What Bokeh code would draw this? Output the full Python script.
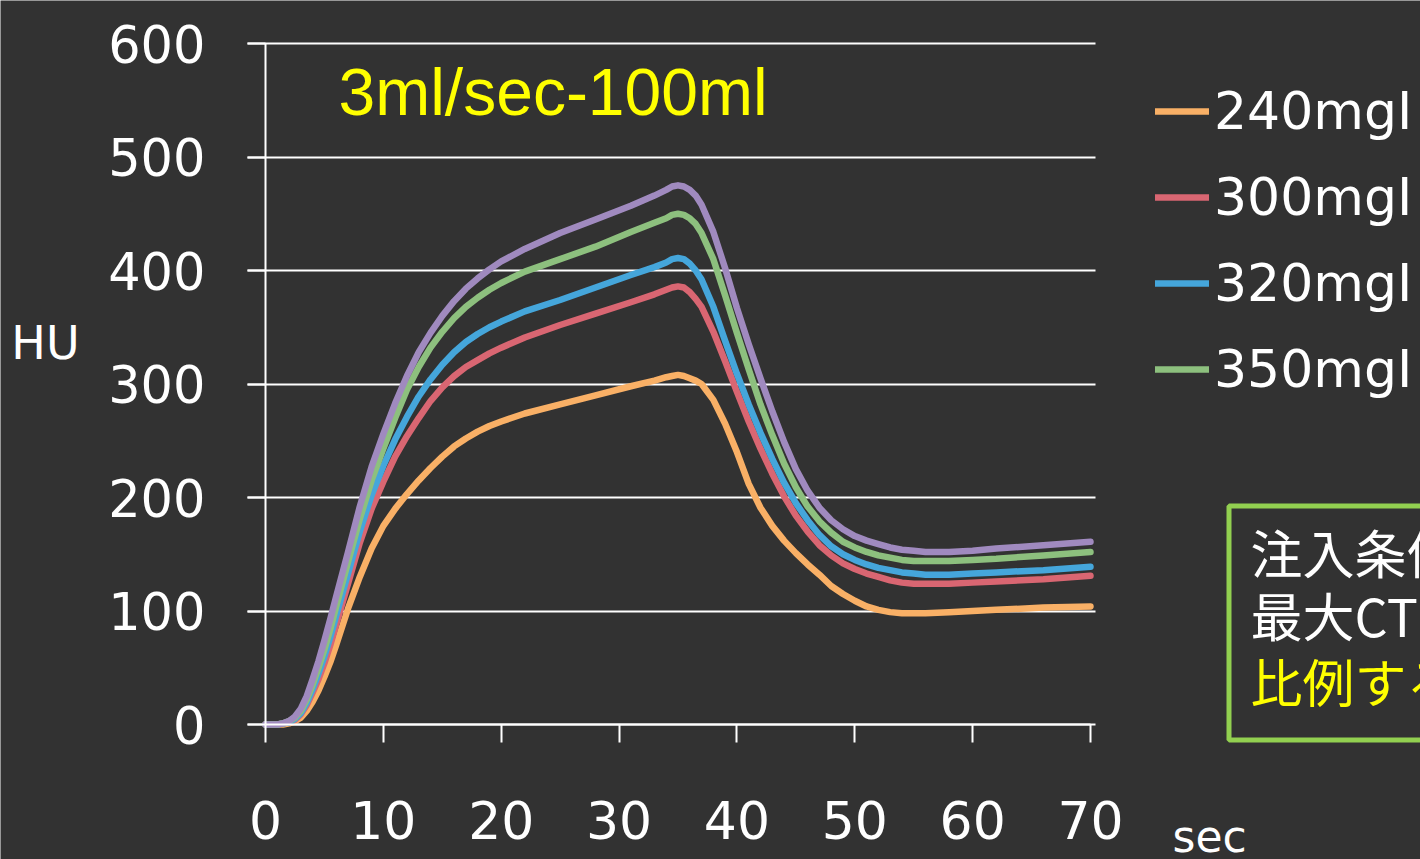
from bokeh.plotting import figure
from bokeh.models import Range1d, Label, BoxAnnotation, Legend, LegendItem, FixedTicker
from bokeh.embed import file_html
from bokeh.resources import INLINE

# ---- data ----
time_s = [0, 1, 1.5, 2, 2.5, 3, 3.5, 4, 4.5, 5, 5.5, 6, 7, 8, 9, 10, 11, 12, 13, 14, 15, 16, 17, 18, 19,
          20, 22, 25, 28, 31, 33, 34, 34.5, 35, 35.5, 36, 36.5, 37, 38, 39, 40, 41, 42, 43, 44, 45,
          46, 47, 48, 49, 50, 51, 52, 53, 54, 55, 56, 58, 60, 62, 66, 70]

hu_240 = [0, 0, 0, 1, 3, 6, 12, 20, 30, 42, 55, 70, 102, 130, 155, 175, 190, 203, 215, 226, 236, 245, 252, 258, 263,
          267, 274, 282, 290, 298, 303, 306, 307, 308, 307, 305, 303, 300, 286, 265, 240, 212, 191, 175, 162, 151,
          141, 132, 122, 115, 109, 104, 101, 99, 98, 98, 98, 99, 100, 101, 103, 104]
hu_300 = [0, 0, 1, 2, 4, 9, 17, 28, 40, 54, 70, 88, 124, 160, 190, 214, 236, 254, 270, 285, 297, 307, 315, 321, 327,
          332, 341, 352, 362, 372, 379, 383, 385, 386, 385, 381, 375, 368, 346, 320, 293, 267, 243, 221, 201, 184,
          170, 158, 149, 142, 137, 133, 130, 127, 125, 124, 124, 124, 125, 126, 128, 131]
hu_320 = [0, 0, 1, 2, 5, 10, 19, 31, 45, 60, 77, 96, 133, 170, 202, 228, 251, 271, 289, 304, 317, 328, 337, 344, 350,
          355, 364, 374, 385, 396, 403, 407, 410, 411, 410, 406, 400, 392, 368, 338, 309, 282, 257, 234, 213, 195,
          180, 167, 157, 150, 145, 141, 138, 136, 134, 133, 132, 132, 133, 134, 136, 139]
hu_350 = [0, 0, 1, 3, 6, 12, 22, 35, 50, 66, 84, 104, 143, 181, 215, 243, 270, 295, 315, 332, 346, 358, 368, 376, 383,
          389, 399, 410, 421, 434, 442, 446, 449, 450, 449, 446, 441, 433, 410, 378, 345, 313, 282, 255, 230, 209,
          192, 179, 169, 161, 156, 152, 149, 147, 145, 144, 144, 144, 145, 146, 149, 152]
hu_370 = [0, 0, 1, 3, 7, 14, 25, 40, 56, 74, 93, 113, 152, 192, 227, 256, 283, 307, 328, 345, 360, 373, 384, 393, 401,
          408, 419, 433, 445, 457, 466, 471, 474, 475, 474, 471, 466, 458, 434, 402, 367, 335, 305, 276, 249, 225,
          206, 191, 180, 172, 166, 162, 159, 156, 154, 153, 152, 152, 153, 155, 158, 161]

series_names = ["240mgI", "300mgI", "320mgI", "350mgI", "370mgI"]
series_values = [hu_240, hu_300, hu_320, hu_350, hu_370]
series_colors = ["#F9B066", "#D96672", "#45A6DB", "#8DC07E", "#A08ABF"]

x_ticks = [0, 10, 20, 30, 40, 50, 60, 70]
y_ticks = [0, 100, 200, 300, 400, 500, 600]

title_text = "3ml/sec-100ml"
note_lines = ["注入条件", "最大CT", "比例する"]
note_colors = ["white", "white", "#FFFF00"]

BG = "#323232"
W, H = 1420, 859
# pixel geometry of the chart area (layout only)
X0_PX, X70_PX = 265.0, 1090.0
Y0_PX, Y600_PX = 724.0, 43.0
sx = (X70_PX - X0_PX) / 70.0
sy = (Y0_PX - Y600_PX) / 600.0


def dx(px):
    return (px - X0_PX) / sx


def dy(py):
    return (Y0_PX - py) / sy


p = figure(width=W, height=H, output_backend="svg", toolbar_location=None,
           x_range=Range1d(dx(0), dx(W)), y_range=Range1d(dy(H), dy(0)),
           min_border=0)
p.background_fill_color = BG
p.border_fill_color = BG
p.outline_line_color = None

p.xgrid.grid_line_color = None
p.ygrid.grid_line_color = "white"
p.ygrid.grid_line_width = 2
p.ygrid[0].ticker = FixedTicker(ticks=y_ticks)
p.ygrid[0].cross_bounds = (dx(247), dx(1095))

for ax in (p.xaxis[0], p.yaxis[0]):
    ax.fixed_location = 0
    ax.axis_line_color = "white"
    ax.axis_line_width = 2
    ax.major_tick_line_color = "white"
    ax.major_tick_line_width = 2
    ax.major_tick_in = 0
    ax.major_tick_out = 18
    ax.minor_tick_line_color = None
    ax.major_label_text_color = "white"
    ax.major_label_text_font = "DejaVu Sans"

p.xaxis[0].ticker = FixedTicker(ticks=x_ticks)
p.yaxis[0].ticker = FixedTicker(ticks=y_ticks)
p.xaxis[0].bounds = (0, 70)
p.yaxis[0].bounds = (0, 600)
p.xaxis[0].major_label_text_font_size = "52px"
p.yaxis[0].major_label_text_font_size = "51px"
p.xaxis[0].major_label_standoff = 58
p.yaxis[0].major_label_standoff = 42

renderers = []
for name, vals, col in zip(series_names, series_values, series_colors):
    r = p.line(time_s, vals, line_color=col, line_width=6.5, line_cap="round", line_join="round")
    renderers.append(r)

legend = Legend(items=[LegendItem(label=n, renderers=[r]) for n, r in zip(series_names[:4], renderers[:4])],
                location=(1155, H - 398.5), orientation="vertical",
                glyph_width=54, glyph_height=20, label_standoff=5, spacing=26,
                padding=0, margin=0, background_fill_alpha=0, border_line_color=None,
                label_text_font="DejaVu Sans", label_text_font_size="52px",
                label_text_color="white", label_text_baseline="middle")
p.add_layout(legend, "center")

p.add_layout(Label(x=dx(45), y=dy(342), text="HU", text_align="center", text_baseline="middle",
                   text_color="white", text_font="DejaVu Sans", text_font_size="46px"))
p.add_layout(Label(x=dx(1172), y=dy(836), text="sec", text_align="left", text_baseline="middle",
                   text_color="white", text_font="DejaVu Sans", text_font_size="44px"))
p.add_layout(Label(x=dx(338), y=dy(91), text=title_text, text_align="left", text_baseline="middle",
                   text_color="#FFFF00", text_font="Liberation Sans", text_font_size="66px"))

p.add_layout(BoxAnnotation(left=dx(1228.5), right=dx(1500), top=dy(505.5), bottom=dy(739.5),
                           fill_alpha=0, line_color="#92D050", line_alpha=1.0, line_width=5))
for txt, col, py in zip(note_lines, note_colors, [551, 614, 680]):
    p.add_layout(Label(x=dx(1250), y=dy(py), text=txt, text_align="left", text_baseline="middle",
                       text_color=col, text_font="Noto Sans CJK JP", text_font_size="52px"))

open("out.html", "w").write(file_html(p, INLINE))
